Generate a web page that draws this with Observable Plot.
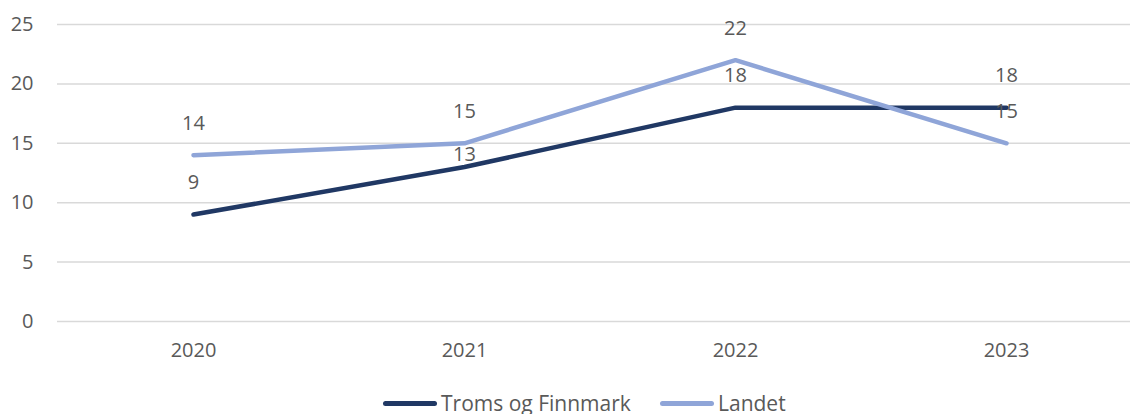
<!DOCTYPE html>
<html>
<head>
<meta charset="utf-8">
<script src="https://cdn.jsdelivr.net/npm/d3@7"></script>
<script src="https://cdn.jsdelivr.net/npm/@observablehq/plot@0.6"></script>
<style>
  html, body { margin: 0; padding: 0; background: #fff; overflow: hidden; }
  body { width: 1130px; height: 414px; font-family: "Open Sans", "Noto Sans", sans-serif; }
  #legend { position: relative; height: 29px; font-size: 21px; color: #595959; }
  .item { position: absolute; top: 4px; display: flex; align-items: center; line-height: 29px; }
  .swatch { width: 54px; height: 5px; border-radius: 3px; margin-right: 4px; }
</style>
</head>
<body>
<div id="chart"></div>
<div id="legend"></div>
<script>
const years = ["2020", "2021", "2022", "2023"];
const seriesNames = ["Troms og Finnmark", "Landet"];
const tromsValues = [9, 13, 18, 18];
const landetValues = [14, 15, 22, 15];
const yTicks = [0, 5, 10, 15, 20, 25];
const colors = ["#203864", "#8FA5D8"];

const data = [];
years.forEach((y, i) => {
  data.push({year: y, series: seriesNames[0], value: tromsValues[i]});
  data.push({year: y, series: seriesNames[1], value: landetValues[i]});
});
// the reference nudges one label (Troms og Finnmark, 2021) down, close to its point
const isNudged = d => d.series === seriesNames[0] && d.year === "2021";

const textColor = "#595959";
const chart = Plot.plot({
  width: 1130,
  height: 385,
  marginTop: 24,
  marginBottom: 64,
  marginLeft: 57,
  marginRight: 0,
  style: {fontFamily: "'Open Sans', 'Noto Sans', sans-serif", fontSize: "20px", color: textColor, background: "#fff"},
  x: {type: "point", domain: years, range: [192, 1006], padding: 0},
  y: {domain: [0, 25]},
  color: {domain: seriesNames, range: colors},
  marks: [
    Plot.ruleY(yTicks, {stroke: "#d9d9d9", strokeWidth: 1.5}),
    Plot.axisY(yTicks, {tickSize: 0, tickPadding: 24, label: null, fill: textColor, fontSize: 20}),
    Plot.axisX(years, {tickSize: 0, tickPadding: 21, label: null, fill: textColor, fontSize: 20}),
    Plot.line(data, {x: "year", y: "value", z: "series", stroke: "series", strokeWidth: 4.5, strokeLinecap: "round", strokeLinejoin: "round"}),
    Plot.text(data.filter(d => !isNudged(d)), {x: "year", y: "value", text: d => String(d.value), dy: -32, fill: textColor, fontSize: 20}),
    Plot.text(data.filter(isNudged), {x: "year", y: "value", text: d => String(d.value), dy: -12, fill: textColor, fontSize: 20})
  ]
});
document.getElementById("chart").appendChild(chart);

const legend = document.getElementById("legend");
const lefts = [383, 660];
seriesNames.forEach((name, i) => {
  const item = document.createElement("div");
  item.className = "item";
  item.style.left = lefts[i] + "px";
  const sw = document.createElement("div");
  sw.className = "swatch";
  sw.style.background = colors[i];
  const label = document.createElement("span");
  label.textContent = name;
  item.appendChild(sw);
  item.appendChild(label);
  legend.appendChild(item);
});
</script>
</body>
</html>
